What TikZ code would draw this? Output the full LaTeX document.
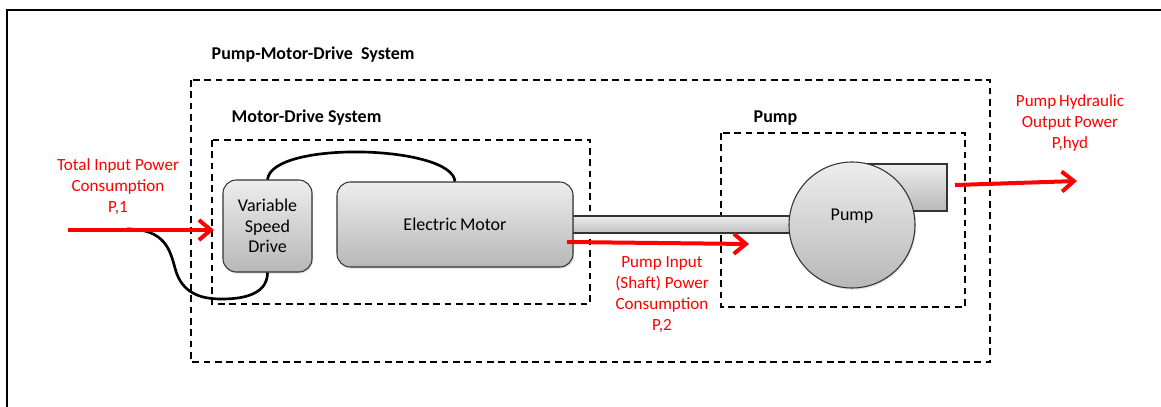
\documentclass[tikz,border=0pt]{standalone}
\usepackage{fontspec}
\setmainfont{Carlito}
\usepackage{tikz}
\usetikzlibrary{arrows.meta,shadows}

\tikzset{
 blk/.style={draw=black!80, line width=0.8pt, rounded corners=10pt,
   top color=black!7, bottom color=black!28,
   drop shadow={opacity=.25,shadow xshift=.8pt,shadow yshift=-1.2pt},
   font=\fontsize{13.5}{15.5}\selectfont, align=center, inner sep=0pt},
 sys/.style={line width=1.5pt, dash pattern=on 5pt off 3.5pt},
 pwr/.style={red, line width=3pt, -{Straight Barb[length=9pt,width=15pt]}},
 cable/.style={line width=2pt},
 lbl/.style={font=\bfseries\fontsize{13.5}{15}\selectfont, anchor=west},
 rlbl/.style={red, align=center, font=\fontsize{12.8}{15.75}\selectfont}
}

\begin{document}
\begin{tikzpicture}[x=0.75pt,y=-0.75pt]
 \useasboundingbox (0,0) rectangle (1161,407);
 \draw[line width=2pt] (7,407) -- (7,10) -- (1161,10);

 \draw[sys] (191,80) rectangle (990,362);
 \draw[sys] (212,140) rectangle (590,304);
 \draw[sys] (721,133) rectangle (965,307);
 \node[lbl] (PMD) at (207,55) {Pump-Motor-Drive\ \ System};
 \node[lbl] (MD) at (227,118) {Motor-Drive System};
 \node[lbl] (PL) at (749,118) {Pump};

 \draw[draw=black!80, line width=0.8pt, top color=black!7, bottom color=black!25]
   (560,216) rectangle (800,233);
 \draw[draw=black!80, line width=0.8pt, top color=black!7, bottom color=black!28]
   (850,164) rectangle (947,211);

 \node[blk, minimum width=66.75pt, minimum height=69pt] (VSD) at (267.5,226) {Variable\\Speed\\Drive};
 \node[blk, minimum width=177pt, minimum height=63.75pt] (EM) at (455,224.5) {Electric\,Motor};
 \node[blk, circle, rounded corners=0pt, minimum size=94.5pt] (P) at (852,225) {};
 \node[font=\fontsize{13.5}{15}\selectfont] (PT) at (852,216) {Pump};

 \coordinate (c1) at (127,229);
 \draw[cable] (VSD.north) .. controls (272,140) and (452,145) .. (EM.north);
 \draw[cable] (c1) .. controls (165,229) and (170,250) .. (175,268)
   .. controls (182,296) and (205,299) .. (222,299)
   .. controls (252,299) and (267.5,290) .. (VSD.south);

 \coordinate (a1) at (68,230);
 \coordinate (b1) at (214,230);
 \coordinate (a2) at (567,242);
 \coordinate (b2) at (749,244);
 \coordinate (a3) at (955,185);
 \coordinate (b3) at (1077,181);
 \draw[pwr] (a1) to (b1);
 \draw[pwr] (a2) to (b2);
 \draw[pwr] (a3) to (b3);

 \node[rlbl] (P1) at (118,187) {Total Input Power\\Consumption\\P,1};
 \node[rlbl] (P2) at (662,295) {Pump Input\\(Shaft) Power\\Consumption\\P,2};
 \node[rlbl] (PH) at (1070,123) {Pump\,Hydraulic\\Output\,Power\\P,hyd};
\end{tikzpicture}
\end{document}
